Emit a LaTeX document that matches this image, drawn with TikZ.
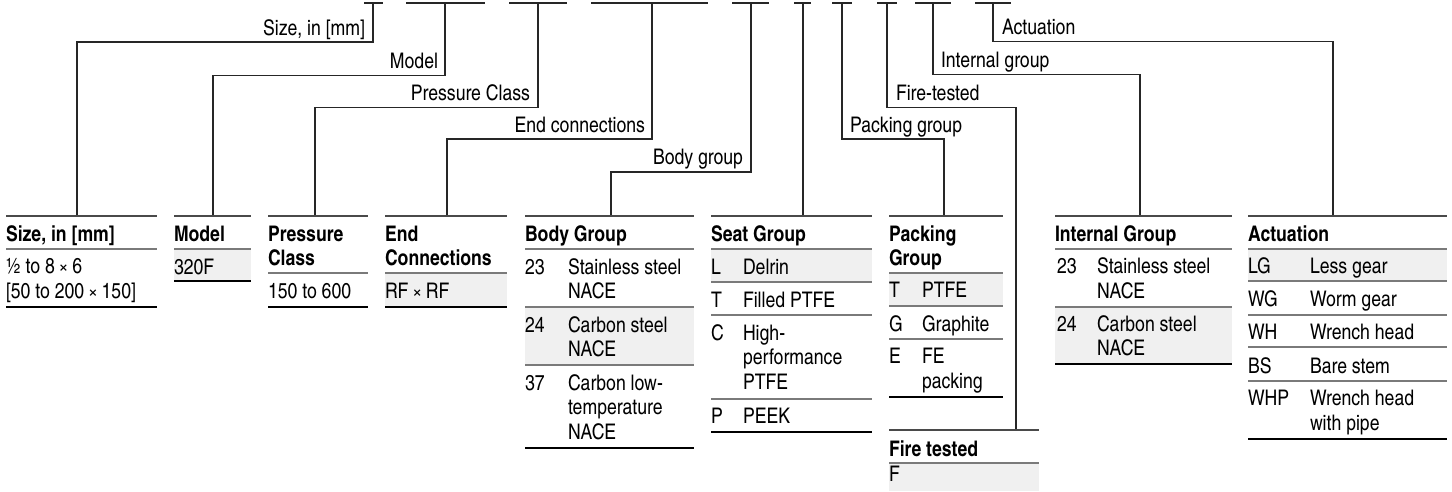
\documentclass[tikz,border=0pt]{standalone}
\usepackage{fontspec}
\setmainfont{texgyreheroscn}[Extension=.otf,UprightFont=*-regular,BoldFont=*-bold,ItalicFont=*-italic,BoldItalicFont=*-bolditalic]
\usepackage{tikz}
\definecolor{rowshade}{HTML}{F0F0F0}
\definecolor{rulegray}{HTML}{7A7A7A}
\definecolor{topgray}{HTML}{4A4A4A}

\begin{document}
\begin{tikzpicture}[x=1pt,y=-1pt,
  font=\fontsize{21.5}{24.5}\selectfont,
  every node/.style={inner sep=0pt,outer sep=0pt},
  lbl/.style={anchor=base east},
  lblr/.style={anchor=base west},
  hd/.style={anchor=base west,align=left,font=\fontsize{21.5}{24}\selectfont\bfseries},
  cell/.style={anchor=base west,align=left},
  lead/.style={line width=1.3pt,black!85},
  toprule/.style={line width=1.8pt,topgray},
  midrule/.style={line width=1.6pt,rulegray},
  botrule/.style={line width=1.4pt,black}]
  \useasboundingbox (0,0) rectangle (1452,491);

  % code slots along the top
  \foreach \a/\b in {364/383,406/485,509/567,591/708,732/769,794/811,832/852,877/897,915/951,975/1011}
    \draw[lead] (\a,3) -- (\b,3);
  \coordinate (szTap) at (373,3);
  \coordinate (moTap) at (445,3);
  \coordinate (prTap) at (538,3);
  \coordinate (enTap) at (652,3);
  \coordinate (boTap) at (751,3);
  \coordinate (seTap) at (803,3);
  \coordinate (paTap) at (842,3);
  \coordinate (fiTap) at (887,3);
  \coordinate (inTap) at (933,3);
  \coordinate (acTap) at (993,3);

  \coordinate (szTop) at (77,216);
  \coordinate (moTop) at (213,216);
  \coordinate (prTop) at (315,216);
  \coordinate (enTop) at (447,216);
  \coordinate (boTop) at (611,216);
  \coordinate (seTop) at (803,216);
  \coordinate (paTop) at (944,216);
  \coordinate (fiTop) at (1016,430);
  \coordinate (inTop) at (1140,216);
  \coordinate (acTop) at (1333,216);

  \draw[lead] (szTap) -- ++(0,39) -| (szTop);
  \draw[lead] (moTap) -- ++(0,72.7) -| (moTop);
  \draw[lead] (prTap) -- ++(0,104.7) -| (prTop);
  \draw[lead] (enTap) -- ++(0,136) -| (enTop);
  \draw[lead] (boTap) -- ++(0,169) -| (boTop);
  \draw[lead] (seTap) -- (seTop);
  \draw[lead] (paTap) -- ++(0,136) -| (paTop);
  \draw[lead] (fiTap) -- ++(0,104.5) -| (fiTop);
  \draw[lead] (inTap) -- ++(0,71.5) -| (inTop);
  \draw[lead] (acTap) -- ++(0,38.7) -| (acTop);

  \node[lbl] (szLabel) at (365,35) {Size, in [mm]};
  \node[lbl] (moLabel) at (438,68.5) {Model};
  \node[lbl] (prLabel) at (530,100.5) {Pressure Class};
  \node[lbl] (enLabel) at (645,132) {End connections};
  \node[lbl] (boLabel) at (743,164) {Body group};
  \node[lblr] (paLabel) at (850,132) {Packing group};
  \node[lblr] (fiLabel) at (896,100) {Fire-tested};
  \node[lblr] (inLabel) at (941,67) {Internal group};
  \node[lblr] (acLabel) at (1002,34) {Actuation};

  % shaded rows
  \fill[rowshade] (174,249) rectangle (251,281);
  \fill[rowshade] (385,273) rectangle (507,307);
  \fill[rowshade] (525,307) rectangle (694,365);
  \fill[rowshade] (711,249) rectangle (872,282);
  \fill[rowshade] (889,273) rectangle (1003,306);
  \fill[rowshade] (889,463) rectangle (1039,491);
  \fill[rowshade] (1055,307) rectangle (1232,364);
  \fill[rowshade] (1248,249) rectangle (1447,281);

  % size
  \draw[toprule] (6,216) -- (157,216);
  \draw[midrule] (6,249) -- (157,249);
  \draw[botrule] (6,307) -- (157,307);
  \node[hd] (szHead) at (6,241.5) {Size, in [mm]};
  \node[cell] (szVal) at (6,298) {½ to 8\,×\,6\\{}[50 to 200\,×\,150]};

  % model
  \draw[toprule] (174,216) -- (251,216);
  \draw[midrule] (174,249) -- (251,249);
  \draw[botrule] (174,281) -- (251,281);
  \node[hd] (moHead) at (174,241.5) {Model};
  \node[cell] (moVal) at (174,274) {320F};

  % pressure class
  \draw[toprule] (268,216) -- (368,216);
  \draw[midrule] (268,273) -- (368,273);
  \draw[botrule] (268,307) -- (368,307);
  \node[hd] (prHead) at (268,265.5) {Pressure\\Class};
  \node[cell] (prVal) at (268,298) {150 to 600};

  % end connections
  \draw[toprule] (385,216) -- (507,216);
  \draw[midrule] (385,273) -- (507,273);
  \draw[botrule] (385,307) -- (507,307);
  \node[hd] (enHead) at (385,265.5) {End\\Connections};
  \node[cell] (enVal) at (385,298) {RF\,×\,RF};

  % body group
  \draw[toprule] (525,216) -- (694,216);
  \draw[midrule] (525,249) -- (694,249);
  \draw[midrule] (525,307) -- (694,307);
  \draw[midrule] (525,365) -- (694,365);
  \draw[botrule] (525,448) -- (694,448);
  \node[hd] (boHead) at (525,241.5) {Body Group};
  \node[cell] (bo23) at (525,274) {23};
  \node[cell] (bo23d) at (568,298.5) {Stainless steel\\NACE};
  \node[cell] (bo24) at (525,332) {24};
  \node[cell] (bo24d) at (568,356.5) {Carbon steel\\NACE};
  \node[cell] (bo37) at (525,390) {37};
  \node[cell] (bo37d) at (568,439) {Carbon low-\\temperature\\NACE};

  % seat group
  \draw[toprule] (711,216) -- (872,216);
  \draw[midrule] (711,249) -- (872,249);
  \draw[midrule] (711,282) -- (872,282);
  \draw[midrule] (711,315) -- (872,315);
  \draw[midrule] (711,399) -- (872,399);
  \draw[botrule] (711,432) -- (872,432);
  \node[hd] (seHead) at (711,241.5) {Seat Group};
  \node[cell] (seL) at (711,274) {L};
  \node[cell] (seLd) at (743,274) {Delrin};
  \node[cell] (seT) at (711,307) {T};
  \node[cell] (seTd) at (743,307) {Filled PTFE};
  \node[cell] (seC) at (711,340) {C};
  \node[cell] (seCd) at (743,389) {High-\\performance\\PTFE};
  \node[cell] (seP) at (711,423.5) {P};
  \node[cell] (sePd) at (743,423.5) {PEEK};

  % packing group
  \draw[toprule] (889,216) -- (1003,216);
  \draw[midrule] (889,273) -- (1003,273);
  \draw[midrule] (889,306) -- (1003,306);
  \draw[midrule] (889,339) -- (1003,339);
  \draw[botrule] (889,397) -- (1003,397);
  \node[hd] (paHead) at (889,265.5) {Packing\\Group};
  \node[cell] (paT) at (889,297.5) {T};
  \node[cell] (paTd) at (922,297.5) {PTFE};
  \node[cell] (paG) at (889,331) {G};
  \node[cell] (paGd) at (922,331) {Graphite};
  \node[cell] (paE) at (889,363.5) {E};
  \node[cell] (paEd) at (922,388) {FE\\packing};

  % fire tested
  \draw[toprule] (889,430) -- (1039,430);
  \draw[midrule] (889,463) -- (1039,463);
  \node[hd] (fiHead) at (889,456.5) {Fire tested};
  \node[cell] (fiF) at (889,481) {F};

  % internal group
  \draw[toprule] (1055,216) -- (1232,216);
  \draw[midrule] (1055,249) -- (1232,249);
  \draw[midrule] (1055,307) -- (1232,307);
  \draw[botrule] (1055,364) -- (1232,364);
  \node[hd] (inHead) at (1055,241.5) {Internal Group};
  \node[cell] (in23) at (1057,273.5) {23};
  \node[cell] (in23d) at (1097,298) {Stainless steel\\NACE};
  \node[cell] (in24) at (1057,331) {24};
  \node[cell] (in24d) at (1097,355.5) {Carbon steel\\NACE};

  % actuation
  \draw[toprule] (1248,216) -- (1447,216);
  \draw[midrule] (1248,249) -- (1447,249);
  \draw[midrule] (1248,281) -- (1447,281);
  \draw[midrule] (1248,315) -- (1447,315);
  \draw[midrule] (1248,347) -- (1447,347);
  \draw[midrule] (1248,381) -- (1447,381);
  \draw[botrule] (1248,439) -- (1447,439);
  \node[hd] (acHead) at (1248,241.5) {Actuation};
  \node[cell] (acLG) at (1248,273.5) {LG};
  \node[cell] (acLGd) at (1310,273.5) {Less gear};
  \node[cell] (acWG) at (1248,306.5) {WG};
  \node[cell] (acWGd) at (1310,306.5) {Worm gear};
  \node[cell] (acWH) at (1248,339.5) {WH};
  \node[cell] (acWHd) at (1310,339.5) {Wrench head};
  \node[cell] (acBS) at (1248,373) {BS};
  \node[cell] (acBSd) at (1310,373) {Bare stem};
  \node[cell] (acWHP) at (1248,405.5) {WHP};
  \node[cell] (acWHPd) at (1310,430) {Wrench head\\with pipe};
\end{tikzpicture}
\end{document}
